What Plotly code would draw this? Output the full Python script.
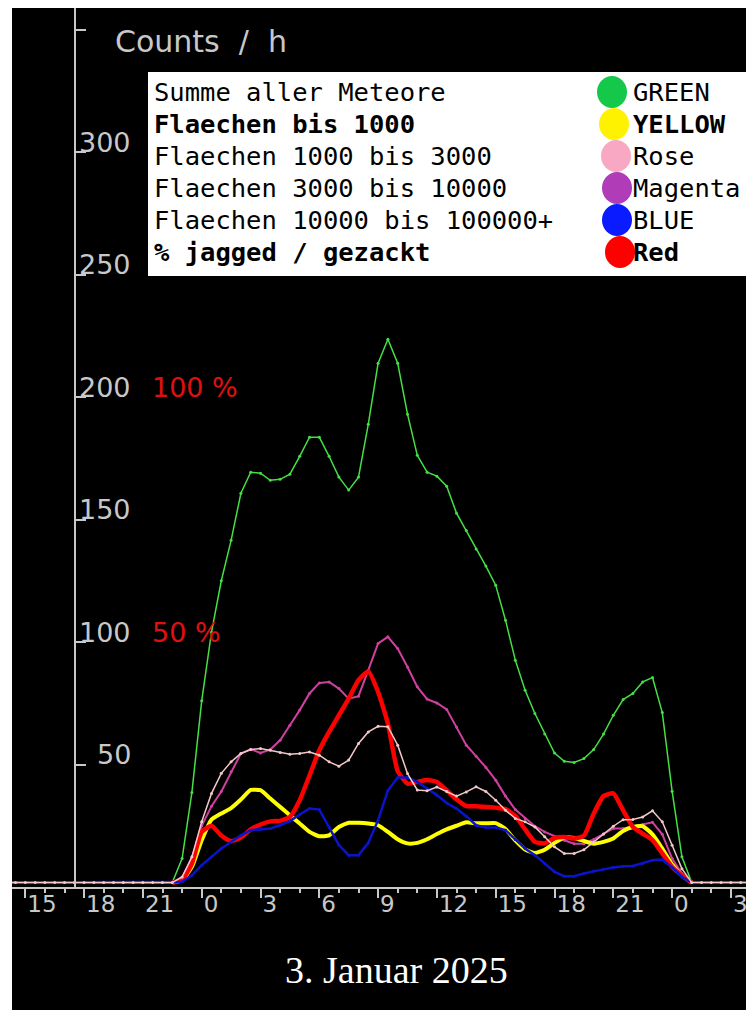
import plotly.graph_objects as go

# time axis: hours relative to midnight of 3 Jan 2025, one sample every 30 minutes
hours = [h / 2 for h in range(-20, 58)]

green = [1.8, 1.8, 1.8, 1.8, 1.8, 1.8, 1.8, 1.8, 1.8, 1.8, 1.8, 1.8, 1.8, 1.8, 1.8, 1.8, 1.8, 1.8,
         11.6, 38.6, 76, 104, 125, 141.5, 160.7, 169.3, 168.9, 166, 166.4, 168.5, 175.8, 183.6, 183.6, 175.8,
         167.3, 162, 167.3, 188.9, 213.8, 223.6, 213.8, 193, 176.2, 169.3, 167.7, 163.6, 152.6, 145.5,
         138, 131, 123.2, 108.9, 92.6, 80.3, 70.8, 62.4, 54.7, 51.3, 50.8, 52.4, 56.1, 62.4, 70.1, 76.5,
         79, 83.7, 85.5, 71.2, 39.1, 12.3,
         1.8, 1.8, 1.8, 1.8, 1.8, 1.8, 1.8, 1.8]
# the thick series are only drawn while meteors are counted
yellow = [None, None, None, None, None, None, None, None, None, None, None, None, None, None, None, None, None, 1.8,
          2.8, 8.2, 19.1, 27.5, 30, 32.2, 35.7, 39.6, 39.5, 36.1, 32.7, 29.3, 25.9, 22.5, 20.7, 21.1,
          24.5, 26.2, 26.2, 25.9, 25.2, 22.5, 19.5, 17.8, 18, 19.5, 21.6, 23.5, 25, 26.4,
          26, 26, 26.1, 23.7, 19, 15.3, 13.9, 15.2, 18, 20.2, 20, 18.8, 17.7, 18.4, 19.8, 22.9,
          24.5, 24.8, 21.5, 15.7, 9.2, 4.8,
          1.8, None, None, None, None, None, None, None]
rose = [1.8, 1.8, 1.8, 1.8, 1.8, 1.8, 1.8, 1.8, 1.8, 1.8, 1.8, 1.8, 1.8, 1.8, 1.8, 1.8, 1.8, 1.8,
        4.1, 12.3, 26.6, 38.2, 46.4, 51.1, 54.5, 56.1, 56.5, 55.8, 54.9, 54.2, 54.5, 55.1, 53.8, 51.1,
        49.3, 51.8, 58.6, 63.3, 65.6, 65.4, 57.9, 46.3, 39.6, 39.3, 40.8, 39, 37.1, 38.8,
        40.9, 39, 35.4, 31.3, 28, 26.6, 24.5, 20.5, 16.4, 13.7, 13.7, 15.2, 18.4, 21.6, 24.8, 27.5,
        27.6, 28.6, 31.1, 26.6, 17, 7.5,
        1.8, 1.8, 1.8, 1.8, 1.8, 1.8, 1.8, 1.8]
magenta = [1.8, 1.8, 1.8, 1.8, 1.8, 1.8, 1.8, 1.8, 1.8, 1.8, 1.8, 1.8, 1.8, 1.8, 1.8, 1.8, 1.8, 1.8,
           4, 12, 25, 33, 39, 47, 54.5, 56.2, 54.7, 56.1, 59.9, 66, 72.2, 79, 83.3, 83.7,
           81, 76.9, 77.9, 88.5, 99.4, 102.1, 97.3, 89.8, 81.7, 76.7, 75.1, 72.5, 65.3, 57.9,
           53.4, 48.8, 43.6, 37.1, 31.6, 28, 24.8, 22.5, 20.7, 19.1, 17.7, 17.7, 19.4, 21.6, 23.9, 23.9,
           24.8, 25.5, 26.4, 21.5, 11.6, 5.5,
           1.8, 1.8, 1.8, 1.8, 1.8, 1.8, 1.8, 1.8]
blue = [1.8, 1.8, 1.8, 1.8, 1.8, 1.8, 1.8, 1.8, 1.8, 1.8, 1.8, 1.8, 1.8, 1.8, 1.8, 1.8, 1.8, 1.8,
        2.1, 4.8, 8.9, 12.3, 15.7, 18.4, 21.1, 23.2, 23.7, 23.9, 25.2, 26.9, 29.6, 32, 31.6, 24.5,
        17.1, 13, 13, 18, 27.3, 39.4, 44.7, 44.7, 42.9, 40.2, 37.5, 34.3, 32, 28.9,
        25.2, 24.3, 24.3, 23.2, 19.4, 15.7, 13, 9.6, 6.2, 4.4, 4.4, 5.5, 6.5, 7.2, 8, 8.5,
        8.6, 9.6, 10.9, 11.2, 8, 4.1,
        1.8, 1.8, 1.8, 1.8, 1.8, 1.8, 1.8, 1.8]
red = [None, None, None, None, None, None, None, None, None, None, None, None, None, None, None, None, None, 1.8,
       2.8, 9.6, 22.5, 25, 21, 18.7, 20.2, 23.5, 25.5, 26.8, 27, 28.6, 35.4, 45.5, 55.8, 63.3,
       70.1, 76.9, 84.4, 88, 79.6, 66.7, 47.3, 42.2, 42.9, 43.7, 42.9, 39.5, 35.8, 33,
       33, 32.7, 32.4, 31.8, 29, 23.5, 18.4, 17.8, 20, 20.4, 19.8, 20.9, 30, 37.1, 38.2, 31.3,
       24.5, 21.8, 19.1, 13.7, 8.2, 4.8,
       1.8, None, None, None, None, None, None, None]

x_ticks = [-9, -6, -3, 0, 3, 6, 9, 12, 15, 18, 21, 24, 27]
x_labels = ["15", "18", "21", "0", "3", "6", "9", "12", "15", "18", "21", "0", "3"]
x_minor = list(range(-9, 29))
y_ticks = [50, 100, 150, 200, 250, 300, 350]
y_labels = ["50", "100", "150", "200", "250", "300"]
pct_marks = [(200, "100 %"), (100, "50 %")]

legend_rows = ["Summe aller Meteore", "<b>Flaechen bis 1000</b>", "Flaechen 1000 bis 3000",
               "Flaechen 3000 bis 10000", "Flaechen 10000 bis 100000+", "<b>% jagged / gezackt</b>"]
legend_names = ["GREEN", "<b>YELLOW</b>", "Rose", "Magenta", "BLUE", "<b>Red</b>"]
legend_dots = ["#14c94a", "#fff200", "#f9a8c4", "#b03cb8", "#0a1cff", "#ff0000"]

GREY = "#c8c8c8"
# the page puts the figure 8px in from the top left corner
W, H = 746, 1002
L, T, B = 4, 0, 123
PW, PH = W - L, H - T - B


# screen pixel -> paper fraction
def px(x):
    return (x - 8 - L) / PW


def py(y):
    return (H - B - (y - 8)) / PH


fig = go.Figure()
series = [
    (green, "#44e044", 1.5, 3, "linear"),
    (magenta, "#d040a0", 2, 3, "linear"),
    (yellow, "#ffff00", 4, 0, "spline"),
    (red, "#ff0000", 4.5, 0, "spline"),
    (blue, "#0a14c8", 2.5, 3, "linear"),
    (rose, "#f2c8c8", 1.5, 3, "linear"),
]
for vals, col, w, ms, shape in series:
    fig.add_trace(go.Scatter(
        x=hours, y=vals, mode="lines+markers" if ms else "lines",
        line=dict(color=col, width=w, shape=shape, smoothing=0.5),
        marker=dict(size=ms, color=col),
    ))

fig.update_xaxes(
    range=[(12 - 201.7) / 19.6, (754 - 201.7) / 19.6],
    showline=True, linecolor=GREY, linewidth=2, showgrid=False, zeroline=False,
    ticks="outside", ticklen=9, tickwidth=2, tickcolor=GREY,
    tickvals=x_ticks, ticktext=x_labels, ticklabelposition="outside right",
    ticklabelstandoff=-5,
    tickfont=dict(family="DejaVu Sans", size=23, color=GREY),
    minor=dict(tickvals=x_minor, ticks="outside", ticklen=4, tickwidth=2, tickcolor=GREY),
)
fig.update_yaxes(
    range=[0, PH / 2.45], anchor="free", position=px(75),
    showline=True, linecolor=GREY, linewidth=2, showgrid=False, zeroline=False,
    ticks="inside", ticklen=10, tickwidth=2, tickcolor=GREY,
    tickvals=y_ticks, showticklabels=False,
)

ann = []
for v, lab in zip(y_ticks, y_labels):
    ann.append(dict(x=px(133), y=v, xref="paper", yref="y", text=lab, showarrow=False,
                    xanchor="right", yanchor="middle", yshift=10,
                    font=dict(family="DejaVu Sans", size=27, color=GREY)))
for v, lab in pct_marks:
    ann.append(dict(x=px(150), y=v, xref="paper", yref="y", text=lab, showarrow=False,
                    xanchor="left", yanchor="middle", yshift=10,
                    font=dict(family="DejaVu Sans", size=27, color="#e01010")))
ann.append(dict(x=px(113), y=py(41), xref="paper", yref="paper",
                text="Counts&nbsp;&nbsp;/&nbsp;&nbsp;h",
                showarrow=False, xanchor="left", yanchor="middle",
                font=dict(family="DejaVu Sans", size=30, color=GREY)))
ann.append(dict(x=px(396), y=py(970), xref="paper", yref="paper", text="3. Januar 2025",
                showarrow=False, xanchor="center", yanchor="middle",
                font=dict(family="Liberation Serif", size=38, color="white")))

shapes = [
    dict(type="rect", xref="paper", yref="paper", x0=px(148), x1=px(750), y0=py(276), y1=py(72),
         fillcolor="white", line=dict(width=0), layer="above"),
    dict(type="rect", xref="paper", yref="paper", x0=px(8), x1=px(12), y0=py(1010), y1=py(8),
         fillcolor="white", line=dict(width=0), layer="above"),
]
dot_x = [612, 614, 616, 617, 617, 620]
for i, (row, name, col) in enumerate(zip(legend_rows, legend_names, legend_dots)):
    yc = 92 + 32 * i
    ann.append(dict(x=px(152), y=py(yc), xref="paper", yref="paper", text=row, showarrow=False,
                    xanchor="left", yanchor="middle",
                    font=dict(family="DejaVu Sans Mono", size=25.5, color="black")))
    ann.append(dict(x=px(631), y=py(yc), xref="paper", yref="paper", text=name, showarrow=False,
                    xanchor="left", yanchor="middle",
                    font=dict(family="DejaVu Sans Mono", size=25.5, color="black")))
    shapes.append(dict(type="circle", xref="paper", yref="paper",
                       x0=px(dot_x[i] - 15), x1=px(dot_x[i] + 15),
                       y0=py(yc + 16), y1=py(yc - 16),
                       fillcolor=col, line=dict(width=0), layer="above"))

fig.update_layout(
    width=W, height=H, margin=dict(l=L, r=0, t=T, b=B),
    paper_bgcolor="black", plot_bgcolor="black", showlegend=False,
    annotations=ann, shapes=shapes,
)

fig.write_html("out.html")
